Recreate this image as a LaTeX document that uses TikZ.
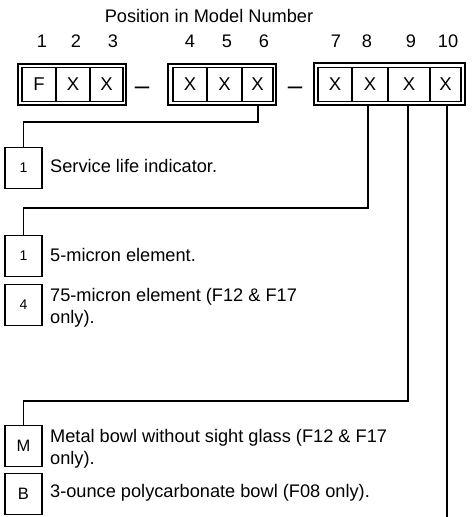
\documentclass[tikz,border=0pt]{standalone}
\usepackage{fontspec}
\setmainfont{Liberation Sans}
\begin{document}
\begin{tikzpicture}[x=1pt,y=-1pt,
  txt/.style={font=\fontsize{18.2}{22.5}\selectfont, inner sep=0pt},
  cell/.style={draw, line width=1.3pt, minimum height=34pt, inner sep=0pt, font=\fontsize{18.5}{20}\selectfont},
  frame/.style={draw, line width=1.9pt},
  optbox/.style={draw, line width=1.6pt, minimum width=37pt, minimum height=41pt, inner sep=0pt, font=\fontsize{14}{16}\selectfont},
  desc/.style={txt, anchor=west, align=left},
  dashtxt/.style={txt, font=\fontsize{26}{26}\selectfont},
  conn/.style={line width=1.6pt}]
\useasboundingbox (0,0) rectangle (472,517);
% title and position numbers
\node[txt] (title) at (209,16) {Position in Model Number};
\foreach \n/\x in {1/42,2/76,3/113,4/190,5/227,6/264,7/336,8/367,9/411,10/448}
  \node[txt] (p\n) at (\x,41) {\n};
% frames
\draw[frame] (18,64) rectangle (126,105);
\draw[frame] (168,64) rectangle (276,105);
\draw[frame] (314,63) rectangle (465,105);
% cells
\node[cell, minimum width=34pt] (c1) at (39,84.5) {F};
\node[cell, minimum width=34pt] (c2) at (73,84.5) {X};
\node[cell, minimum width=33pt] (c3) at (106.5,84.5) {X};
\node[cell, minimum width=34pt] (c4) at (190,84.5) {X};
\node[cell, minimum width=35pt] (c5) at (224.5,84.5) {X};
\node[cell, minimum width=31pt] (c6) at (257.5,84.5) {X};
\node[cell, minimum width=34pt] (c7) at (335,84.5) {X};
\node[cell, minimum width=36pt] (c8) at (370,84.5) {X};
\node[cell, minimum width=42pt] (c9) at (409,84.5) {X};
\node[cell, minimum width=31pt] (c10) at (445.5,84.5) {X};
% dashes
\node[dashtxt] (d1) at (142,91) {--};
\node[dashtxt] (d2) at (295,91) {--};
% option boxes
\node[optbox] (o1) at (23.5,168) {1};
\node[optbox] (o2) at (23.5,256) {1};
\node[optbox] (o3) at (23.5,305) {4};
\node[optbox, font=\fontsize{16.5}{18}\selectfont] (o4) at (23.5,446) {M};
\node[optbox, font=\fontsize{16.5}{18}\selectfont] (o5) at (23.5,494) {B};
% descriptions
\node[desc] (t1) at (50,166) {Service life indicator.};
\node[desc] (t2) at (50,255) {5-micron element.};
\node[desc] (t3) at (50,308) {75-micron element (F12 \& F17\\only).};
\node[desc] (t4) at (50,449) {Metal bowl without sight glass (F12 \& F17\\only).};
\node[desc] (t5) at (50,493) {3-ounce polycarbonate bowl (F08 only).};
% connectors
\coordinate (e10) at (447,517);
\draw[conn] (258,105) -- (258,122) -| (o1.north);
\draw[conn] (368,105) -- (368,208) -| (o2.north);
\draw[conn] (408,105) -- (408,401) -| (o4.north);
\draw[conn] (447,105) -- (e10);
\end{tikzpicture}
\end{document}
